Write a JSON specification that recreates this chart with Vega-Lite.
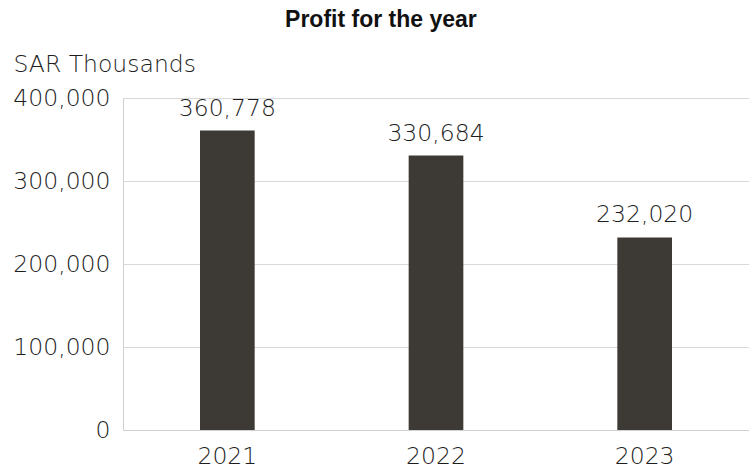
{
  "$schema": "https://vega.github.io/schema/vega-lite/v6.json",
  "width": 626,
  "height": 332,
  "autosize": {"type": "none"},
  "padding": {"left": 123, "top": 98, "right": 0, "bottom": 41},
  "background": "white",
  "title": {
    "text": "Profit for the year",
    "font": "Liberation Sans",
    "fontSize": 23,
    "fontWeight": "bold",
    "color": "#111111",
    "anchor": "middle",
    "frame": "bounds",
    "offset": 20
  },
  "data": {
    "values": [
      {"year": "2021", "profit": 360778},
      {"year": "2022", "profit": 330684},
      {"year": "2023", "profit": 232020}
    ]
  },
  "config": {
    "view": {"stroke": null},
    "axis": {
      "labelFont": "DejaVu Sans",
      "labelFontSize": 23.5,
      "labelFontWeight": 200,
      "labelColor": "#1e1e1e",
      "titleFont": "DejaVu Sans",
      "titleFontSize": 23.5,
      "titleFontWeight": 200,
      "titleColor": "#1e1e1e",
      "domainColor": "#d0d0d0",
      "gridColor": "#d9d9d9",
      "ticks": false
    }
  },
  "encoding": {
    "x": {
      "field": "year",
      "type": "nominal",
      "scale": {"paddingInner": 0.738, "paddingOuter": 0.369},
      "axis": {"title": null, "labelAngle": 0, "labelPadding": 14, "grid": false, "domain": true}
    },
    "y": {
      "field": "profit",
      "type": "quantitative",
      "scale": {"domain": [0, 400000], "nice": false},
      "axis": {
        "title": "SAR Thousands",
        "titleAngle": 0,
        "titleAlign": "left",
        "titleBaseline": "alphabetic",
        "titleX": -110,
        "titleY": -27,
        "values": [0, 100000, 200000, 300000, 400000],
        "format": ",d",
        "labelPadding": 13,
        "grid": true,
        "domain": true
      }
    }
  },
  "layer": [
    {"mark": {"type": "bar", "color": "#3d3a35"}},
    {
      "mark": {"type": "text", "baseline": "alphabetic", "dy": -15, "font": "DejaVu Sans", "fontSize": 23.5, "fontWeight": 200, "color": "#1e1e1e"},
      "encoding": {"text": {"field": "profit", "type": "quantitative", "format": ",d"}}
    }
  ]
}
